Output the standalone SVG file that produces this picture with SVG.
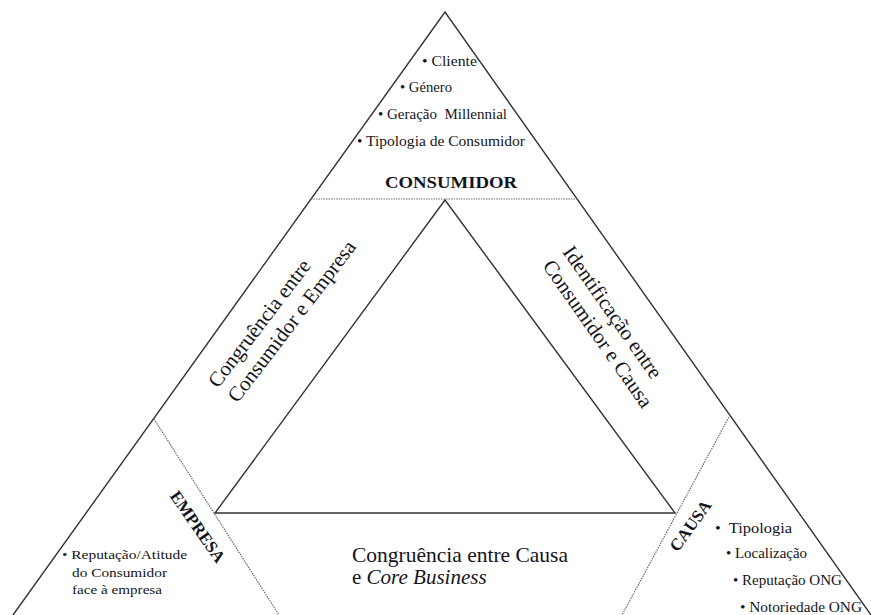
<svg xmlns="http://www.w3.org/2000/svg" width="871" height="615" viewBox="0 0 871 615">
<style>
.ln{stroke:#333;stroke-width:1.4;fill:none}
.dt{stroke:#6e6e6e;stroke-width:1.2;stroke-dasharray:1.5 1;fill:none}
.t{fill:#141420}
.s{font-size:14.5px}
.xs{font-size:13.5px}
.b{font-weight:bold}
.big{font-size:21px}
</style>
<rect width="871" height="615" fill="#fff"/>
<g id="connectors">
<polyline class="ln" points="13,615 445,12 871,615"/>
<polygon class="ln" points="445,200 215,513 675,513"/>
<line class="dt" x1="311" y1="199" x2="578" y2="199"/>
<line class="dt" x1="154" y1="419" x2="279" y2="615"/>
<line class="dt" x1="730" y1="415" x2="622" y2="615"/>
</g>
<g font-family="'Liberation Serif', 'Times New Roman', Times, serif">
<g id="consumidor">
<text class="t s" x="422" y="66" textLength="55" lengthAdjust="spacingAndGlyphs">• Cliente</text>
<text class="t s" x="400" y="92" textLength="52" lengthAdjust="spacingAndGlyphs">• Género</text>
<text class="t s" x="378" y="119" textLength="129" lengthAdjust="spacingAndGlyphs" xml:space="preserve">• Geração  Millennial</text>
<text class="t s" x="357" y="146" textLength="168" lengthAdjust="spacingAndGlyphs">• Tipologia de Consumidor</text>
<text class="t b" x="385" y="188" font-size="17.5" textLength="132" lengthAdjust="spacingAndGlyphs">CONSUMIDOR</text>
</g>
<g id="congruencia-consumidor-empresa">
<text class="t big" transform="translate(218,389) rotate(-52.7)"><tspan x="0" y="0">Congruência entre</tspan><tspan x="0" y="24.5">Consumidor e Empresa</tspan></text>
</g>
<g id="identificacao-consumidor-causa">
<text class="t big" transform="translate(562,252) rotate(55)"><tspan x="0" y="0">Identificação entre</tspan><tspan x="0" y="24.5">Consumidor e Causa</tspan></text>
</g>
<g id="empresa">
<text class="t b" font-size="17" text-anchor="middle" transform="translate(193,530) rotate(55)">EMPRESA</text>
<text class="t xs" x="62" y="559" textLength="125" lengthAdjust="spacingAndGlyphs">• Reputação/Atitude</text>
<text class="t xs" x="72" y="577" textLength="95" lengthAdjust="spacingAndGlyphs">do Consumidor</text>
<text class="t xs" x="72" y="594" textLength="90" lengthAdjust="spacingAndGlyphs">face à empresa</text>
</g>
<g id="causa">
<text class="t b" font-size="17" text-anchor="middle" transform="translate(695,529) rotate(-54)">CAUSA</text>
<text class="t s" x="715" y="533" textLength="77" lengthAdjust="spacingAndGlyphs" xml:space="preserve">•  Tipologia</text>
<text class="t s" x="726" y="558" textLength="81" lengthAdjust="spacingAndGlyphs">• Localização</text>
<text class="t s" x="733" y="585" textLength="109" lengthAdjust="spacingAndGlyphs">• Reputação ONG</text>
<text class="t s" x="740" y="612" textLength="122" lengthAdjust="spacingAndGlyphs">• Notoriedade ONG</text>
</g>
<g id="congruencia-causa-core">
<text class="t" font-size="21" x="352" y="562" textLength="216" lengthAdjust="spacingAndGlyphs">Congruência entre Causa</text>
<text class="t" font-size="21" x="352" y="584">e <tspan font-style="italic">Core Business</tspan></text>
</g>
</g>
</svg>
